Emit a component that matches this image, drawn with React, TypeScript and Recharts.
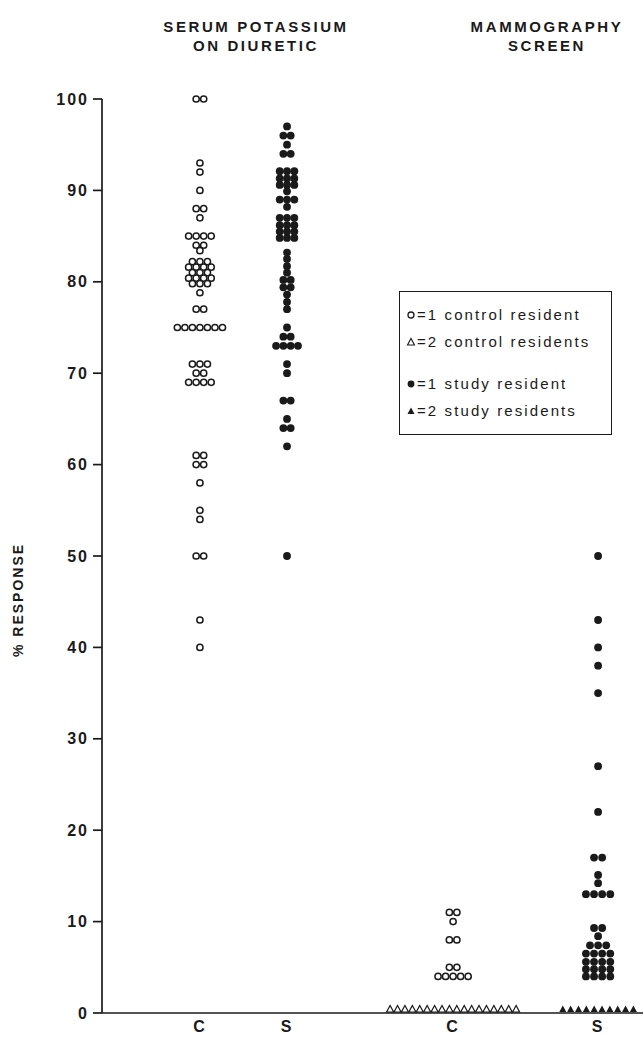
import React from "react";
import { ScatterChart, Scatter, XAxis, YAxis, Legend, Label } from "recharts";

const INK = "#1a1a1a";
const FONT = "'Liberation Sans', Arial, sans-serif";

const categories = ["C", "S", "C", "S"];
const panelTitles = [
  ["SERUM POTASSIUM", "ON DIURETIC"],
  ["MAMMOGRAPHY", "SCREEN"],
];
const yTicks = [0, 10, 20, 30, 40, 50, 60, 70, 80, 90, 100];
const legendLabels = [
  "=1 control resident",
  "=2 control residents",
  "=1 study resident",
  "=2 study residents",
];

// % response, one entry per resident (circles)
const potassiumControl = [
  100, 100, 93, 92, 90, 88, 88, 87, 85, 85, 85, 85, 84, 84, 83.4,
  82.2, 82.2, 82.2, 81.6, 81.6, 81.6, 81.6, 81, 81, 81, 80.4, 80.4, 80.4, 80.4,
  79.8, 79.8, 79.8, 78.8, 77, 77,
  75, 75, 75, 75, 75, 75, 75,
  71, 71, 71, 70, 70, 69, 69, 69, 69,
  61, 61, 60, 60, 58, 55, 54, 50, 50, 43, 40,
];
const potassiumStudy = [
  97, 96, 96, 95, 94, 94,
  92.1, 92.1, 92.1, 91.3, 91.3, 91.3, 90.6, 90.6, 90.6, 89.9, 89, 89, 89, 88.2,
  87, 87, 87, 86.2, 86.2, 86.2, 85.5, 85.5, 85.5, 84.8, 84.8, 84.8,
  83.2, 82.5, 81.7, 81, 80.2, 80.2, 79.4, 79.4, 78.6, 77.8, 77,
  75, 74, 74, 73, 73, 73, 73,
  71, 70, 67, 67, 65, 64, 64, 62, 50,
];
const mammoControl = [11, 11, 10, 8, 8, 5, 5, 4, 4, 4, 4, 4];
const mammoStudy = [
  50, 43, 40, 38, 35, 27, 22, 17, 17, 15.1, 14.2, 13, 13, 13, 13,
  9.3, 9.3, 8.4, 7.4, 7.4, 7.4, 6.5, 6.5, 6.5, 6.5, 5.6, 5.6, 5.6, 5.6,
  4.8, 4.8, 4.8, 4.8, 4, 4, 4, 4,
];
// triangles: each one stands for two residents at 0 %
const mammoControlPairs = [0, 0, 0, 0, 0, 0, 0, 0, 0, 0, 0, 0, 0, 0, 0, 0, 0, 0];
const mammoStudyPairs = [0, 0, 0, 0, 0, 0, 0, 0, 0, 0];

// where each group sits on the 0..100 horizontal scale
const groupX = [18.1, 34.2, 64.9, 91.7];
const STEP = 1.39;

function swarm(values: number[], group: number, step = STEP) {
  const count = new Map<number, number>();
  values.forEach((v) => count.set(v, (count.get(v) ?? 0) + 1));
  const seen = new Map<number, number>();
  return values.map((v) => {
    const n = count.get(v) ?? 1;
    const i = seen.get(v) ?? 0;
    seen.set(v, i + 1);
    return { x: groupX[group] + (i - (n - 1) / 2) * step, y: v };
  });
}

const OpenDot = (p: any) => (
  <circle cx={p.cx} cy={p.cy} r={3.1} fill="#fff" stroke={INK} strokeWidth={1.5} />
);
const FilledDot = (p: any) => <circle cx={p.cx} cy={p.cy} r={3.9} fill={INK} />;
const triPath = (cx: number, cy: number) =>
  `M${cx - 3.5},${cy - 1} L${cx + 3.5},${cy - 1} L${cx},${cy - 7.5} Z`;
const OpenTri = (p: any) => (
  <path d={triPath(p.cx, p.cy)} fill="#fff" stroke={INK} strokeWidth={1.2} />
);
const FilledTri = (p: any) => <path d={triPath(p.cx, p.cy)} fill={INK} />;

const legendIcons = [
  <circle cx={6} cy={8} r={3} fill="#fff" stroke={INK} strokeWidth={1.3} />,
  <path d="M2.5,11 L9.5,11 L6,4.5 Z" fill="#fff" stroke={INK} strokeWidth={1.1} />,
  <circle cx={6} cy={8} r={3.4} fill={INK} />,
  <path d="M2.5,11 L9.5,11 L6,4.5 Z" fill={INK} />,
];

const LegendBox = () => (
  <div
    style={{
      border: `1.5px solid ${INK}`,
      width: 213,
      height: 144,
      boxSizing: "border-box",
      padding: "9px 0 0 5px",
      fontFamily: FONT,
      fontSize: 15,
      letterSpacing: 2.1,
      color: INK,
      background: "#fff",
    }}
  >
    {legendLabels.map((t, i) => (
      <div
        key={t}
        style={{
          display: "flex",
          alignItems: "center",
          height: 27,
          marginTop: i === 2 ? 15 : 0,
          whiteSpace: "nowrap",
        }}
      >
        <svg width={12} height={16} style={{ marginRight: 0 }}>
          {legendIcons[i]}
        </svg>
        {t}
      </div>
    ))}
  </div>
);

const titleStyle = (cx: number): React.CSSProperties => ({
  position: "absolute",
  left: cx - 150,
  top: 17,
  width: 300,
  textAlign: "center",
  fontFamily: FONT,
  fontWeight: 700,
  fontSize: 15,
  letterSpacing: 2.6,
  lineHeight: "19px",
  color: INK,
});

export default function App() {
  const tickStyle = { fontSize: 16, fontWeight: 700, fill: INK, fontFamily: FONT, letterSpacing: 2 };
  return (
    <div style={{ position: "absolute", left: 0, top: 0, width: 643, height: 1038, background: "#fff" }}>
      <div style={titleStyle(256)}>
        {panelTitles[0][0]}
        <br />
        {panelTitles[0][1]}
      </div>
      <div style={titleStyle(547)}>
        {panelTitles[1][0]}
        <br />
        {panelTitles[1][1]}
      </div>
      <ScatterChart width={643} height={1038} margin={{ top: 99, right: 0, bottom: 0, left: 0 }}>
        <XAxis
          type="number"
          dataKey="x"
          domain={[0, 100]}
          ticks={groupX}
          tickFormatter={(_v: number, i: number) => categories[i]}
          tickLine={false}
          axisLine={{ stroke: INK, strokeWidth: 1.7 }}
          tick={tickStyle}
          height={25}
          interval={0}
        />
        <YAxis
          type="number"
          dataKey="y"
          domain={[0, 100]}
          ticks={yTicks}
          width={102}
          tickSize={9}
          tickMargin={4}
          axisLine={{ stroke: INK, strokeWidth: 1.7 }}
          tickLine={{ stroke: INK, strokeWidth: 1.7 }}
          tick={tickStyle}
          interval={0}
        >
          <Label
            content={() => (
              <text
                x={23}
                y={600}
                transform="rotate(-90 23 600)"
                textAnchor="middle"
                fontFamily={FONT}
                fontWeight={700}
                fontSize={14}
                letterSpacing={2}
                fill={INK}
              >
                % RESPONSE
              </text>
            )}
          />
        </YAxis>
        <Legend
          layout="horizontal"
          verticalAlign="middle"
          align="center"
          content={LegendBox}
          wrapperStyle={{ position: "absolute", left: 399, top: 291, width: 213 }}
        />
        <Scatter data={swarm(potassiumControl, 0)} shape={OpenDot} isAnimationActive={false} />
        <Scatter data={swarm(potassiumStudy, 1, 1.35)} shape={FilledDot} isAnimationActive={false} />
        <Scatter data={swarm(mammoControl, 2)} shape={OpenDot} isAnimationActive={false} />
        <Scatter data={swarm(mammoStudy, 3, 1.5)} shape={FilledDot} isAnimationActive={false} />
        <Scatter data={swarm(mammoControlPairs, 2, 1.37)} shape={OpenTri} isAnimationActive={false} />
        <Scatter data={swarm(mammoStudyPairs, 3, 1.45)} shape={FilledTri} isAnimationActive={false} />
      </ScatterChart>
    </div>
  );
}
